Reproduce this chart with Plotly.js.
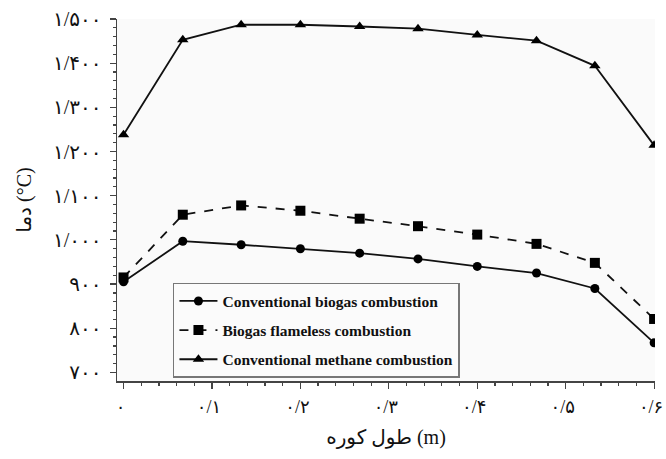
<!DOCTYPE html>
<html>
<head>
<meta charset="utf-8">
<script src="https://cdn.plot.ly/plotly-3.0.1.min.js"></script>
<style>html,body{margin:0;padding:0;background:#fff;}#chart{width:666px;height:459px;}</style>
</head>
<body>
<div id="chart"></div>
<script>
// Furnace length (m)
const furnaceLength = [0, 0.067, 0.133, 0.2, 0.267, 0.333, 0.4, 0.467, 0.533, 0.6];
// Temperature (°C)
const conventionalBiogas = [905, 997, 989, 980, 970, 957, 940, 925, 890, 767];
const biogasFlameless   = [915, 1057, 1078, 1066, 1048, 1031, 1012, 991, 948, 821];
const conventionalMethane = [1238, 1453, 1487, 1487, 1483, 1478, 1464, 1451, 1394, 1214];

const seriesNames = ['Conventional biogas combustion', 'Biogas flameless combustion', 'Conventional methane combustion'];

const xTickVals = [0, 0.1, 0.2, 0.3, 0.4, 0.5, 0.6];
const xTickText = ['۰', '۰/۱', '۰/۲', '۰/۳', '۰/۴', '۰/۵', '۰/۶'];
const yTickVals = [700, 800, 900, 1000, 1100, 1200, 1300, 1400, 1500];
const yTickText = ['۷۰۰', '۸۰۰', '۹۰۰', '۱/۰۰۰', '۱/۱۰۰', '۱/۲۰۰', '۱/۳۰۰', '۱/۴۰۰', '۱/۵۰۰'];

const xTitle = 'طول کوره (m)';
const yTitle = 'دما (°C)';

const lineStyle = {color: '#111', width: 1.8};
const traces = [
  {x: furnaceLength, y: conventionalBiogas, name: seriesNames[0], legendgroup: 'a', mode: 'lines+markers',
   line: Object.assign({}, lineStyle), marker: {symbol: 'circle', size: 9, color: '#000'}},
  {x: furnaceLength, y: biogasFlameless, name: seriesNames[1], legendgroup: 'b', mode: 'lines+markers',
   line: Object.assign({dash: 'dash'}, lineStyle), marker: {symbol: 'square', size: 10, color: '#000'}},
  {x: furnaceLength, y: conventionalMethane, name: seriesNames[2], legendgroup: 'c', mode: 'lines+markers',
   line: Object.assign({}, lineStyle), marker: {symbol: 'triangle-up', size: 10, color: '#000'}}
];

const tickFont = {family: 'Liberation Serif, DejaVu Sans, serif', size: 20, color: '#111'};
const layout = {
  width: 666, height: 459,
  margin: {l: 117, r: 11, t: 19, b: 78},
  paper_bgcolor: '#fff',
  plot_bgcolor: '#fafafa',
  showlegend: true,
  legend: {
    x: 0.104, y: 0.271, xanchor: 'left', yanchor: 'top',
    bgcolor: '#fbfbfb', bordercolor: '#777', borderwidth: 1.5,
    font: {family: 'Liberation Serif, serif', size: 15.5, color: '#111', weight: 'bold'},
    tracegroupgap: 6, itemwidth: 38, traceorder: 'grouped'
  },
  xaxis: {
    range: [-0.0074, 0.601],
    tickvals: xTickVals, ticktext: xTickText,
    ticks: 'outside', ticklen: 6, tickcolor: '#444', tickwidth: 1.2,
    minor: {dtick: 0.02, tick0: 0, ticks: 'outside', ticklen: 3, tickcolor: '#444', showgrid: false},
    showgrid: false, zeroline: false, showline: true, linecolor: '#444', linewidth: 1.5,
    tickfont: {family: 'Liberation Serif, DejaVu Sans, serif', size: 18, color: '#111'},
    ticklabelstandoff: 3, ticklabeloverflow: 'allow', ticklabelshift: -3,
    title: {text: xTitle, font: {family: 'Liberation Serif, DejaVu Sans, serif', size: 20, color: '#111'}, standoff: 14}
  },
  yaxis: {
    range: [680.6, 1500],
    tickvals: yTickVals, ticktext: yTickText,
    ticks: 'outside', ticklen: 6, tickcolor: '#444', tickwidth: 1.2,
    minor: {dtick: 20, tick0: 700, ticks: 'outside', ticklen: 3, tickcolor: '#444', showgrid: false},
    showgrid: false, zeroline: false, showline: true, linecolor: '#444', linewidth: 1.5,
    tickfont: tickFont, ticklabelstandoff: 4,
    title: {text: yTitle, font: {family: 'Liberation Serif, DejaVu Sans, serif', size: 20, color: '#111'}, standoff: 16}
  }
};

Plotly.newPlot('chart', traces, layout, {displayModeBar: false, staticPlot: true});
</script>
</body>
</html>
